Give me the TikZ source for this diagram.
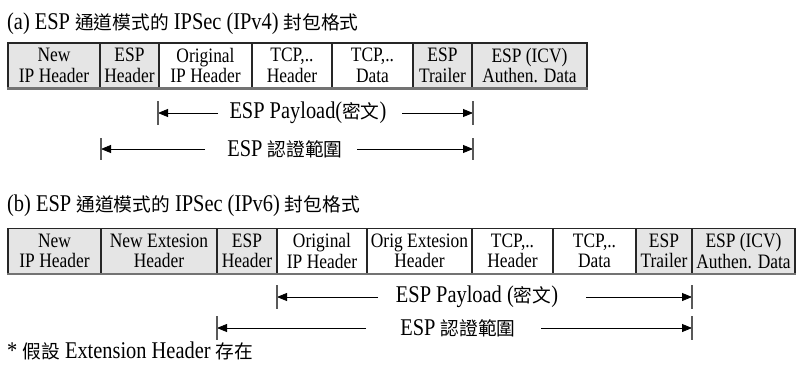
\documentclass[tikz,border=0pt]{standalone}
\usepackage{fontspec}
\setmainfont{Liberation Serif}[FakeStretch=0.85]
\newfontfamily\cjkfont{Noto Sans CJK TC}[Scale=0.78]
\newcommand\cjktxt[1]{{\cjkfont #1}}
\usetikzlibrary{arrows.meta}

\tikzset{
  boxfont/.style={font=\fontsize{20.5}{20.5}\selectfont},
  cell/.style={draw=black!85, line width=1.1pt, minimum height=45pt,
               inner sep=0pt, align=center, boxfont},
  cellg/.style={cell, fill=black!10},
  cellw/.style={cell, fill=white},
  basebar/.style={draw=black!55, line width=2.4pt},
  title/.style={anchor=base west, inner sep=0pt, font=\fontsize{24}{26}\selectfont},
  lab/.style={inner sep=0pt, font=\fontsize{24}{26}\selectfont},
  tick/.style={draw=black!65, line width=1.3pt},
  dim/.style={-{Triangle[length=10pt,width=8pt]}, line width=0.8pt},
}

\begin{document}
\begin{tikzpicture}[x=1pt,y=-1pt]
\useasboundingbox (0,0) rectangle (797,370);

% ---------- (a) IPv4 ----------
\node[title] (ta) at (7,29) {(a) ESP \cjktxt{通道模式的} IPSec (IPv4) \cjktxt{封包格式}};

\node[cellg, minimum width=92pt]  (a1) at (54,65.5)    {New\\IP Header};
\node[cellg, minimum width=59pt]  (a2) at (129.5,65.5) {ESP\\Header};
\node[cellw, minimum width=93pt]  (a3) at (205.5,65.5) {Original\\IP Header};
\node[cellw, minimum width=80pt]  (a4) at (292,65.5)   {TCP,..\\Header};
\node[cellw, minimum width=81pt]  (a5) at (372.5,65.5) {TCP,..\\Data};
\node[cellg, minimum width=59pt]  (a6) at (442.5,65.5) {ESP\\Trailer};
\node[cellg, minimum width=115pt] (a7) at (529.5,65.5) {ESP (ICV)\\Authen. Data};
\draw[basebar] (a1.south west) -- (a7.south east);

% payload span
\coordinate (pa-l) at (158,113);
\coordinate (pa-r) at (473,113);
\coordinate (pa-l0) at (218,113);
\coordinate (pa-r0) at (402,113);
\node[lab] (pa) at (308,113) {ESP Payload(\cjktxt{密文})};
\draw[dim] (pa-l0) -- (pa-l);
\draw[dim] (pa-r0) -- (pa-r);
\draw[tick] ([yshift=12pt]pa-l) -- ([yshift=-12pt]pa-l);
\draw[tick] ([yshift=12pt]pa-r) -- ([yshift=-12pt]pa-r);

% authentication span
\coordinate (aa-l) at (101,149);
\coordinate (aa-r) at (473,149);
\coordinate (aa-l0) at (205,149);
\coordinate (aa-r0) at (357,149);
\node[lab] (aa) at (285,149) {ESP \cjktxt{認證範圍}};
\draw[dim] (aa-l0) -- (aa-l);
\draw[dim] (aa-r0) -- (aa-r);
\draw[tick] ([yshift=11pt]aa-l) -- ([yshift=-11pt]aa-l);
\draw[tick] ([yshift=11pt]aa-r) -- ([yshift=-11pt]aa-r);

% ---------- (b) IPv6 ----------
\node[title] (tb) at (7,211) {(b) ESP \cjktxt{通道模式的} IPSec (IPv6) \cjktxt{封包格式}};

\node[cellg, minimum width=93pt]  (b1) at (54.5,251)  {New\\IP Header};
\node[cellg, minimum width=116pt] (b2) at (159,251)   {New Extesion\\Header};
\node[cellg, minimum width=60pt]  (b3) at (247,251)   {ESP\\Header};
\node[cellw, minimum width=90pt]  (b4) at (322,251)   {Original\\IP Header};
\node[cellw, minimum width=105pt] (b5) at (419.5,251) {Orig Extesion\\Header};
\node[cellw, minimum width=81pt]  (b6) at (512.5,251) {TCP,..\\Header};
\node[cellw, minimum width=83pt]  (b7) at (594.5,251) {TCP,..\\Data};
\node[cellg, minimum width=56pt]  (b8) at (664,251)   {ESP\\Trailer};
\node[cellg, minimum width=103pt] (b9) at (743.5,251) {ESP (ICV)\\Authen. Data};
\draw[basebar] (b1.south west) -- (b9.south east);

% payload span
\coordinate (pb-l) at (277,297);
\coordinate (pb-r) at (692,297);
\coordinate (pb-l0) at (378,297);
\coordinate (pb-r0) at (586,297);
\node[lab] (pb) at (477,297) {ESP Payload (\cjktxt{密文})};
\draw[dim] (pb-l0) -- (pb-l);
\draw[dim] (pb-r0) -- (pb-r);
\draw[tick] ([yshift=12pt]pb-l) -- ([yshift=-12pt]pb-l);
\draw[tick] ([yshift=12pt]pb-r) -- ([yshift=-12pt]pb-r);

% authentication span
\coordinate (ab-l) at (217,328);
\coordinate (ab-r) at (692,328);
\coordinate (ab-l0) at (366,328);
\coordinate (ab-r0) at (541,328);
\node[lab] (ab) at (458,328) {ESP \cjktxt{認證範圍}};
\draw[dim] (ab-l0) -- (ab-l);
\draw[dim] (ab-r0) -- (ab-r);
\draw[tick] ([yshift=12pt]ab-l) -- ([yshift=-12pt]ab-l);
\draw[tick] ([yshift=12pt]ab-r) -- ([yshift=-12pt]ab-r);

% footnote
\node[title] (fn) at (7,358) {* \cjktxt{假設} Extension Header \cjktxt{存在}};
\end{tikzpicture}
\end{document}
